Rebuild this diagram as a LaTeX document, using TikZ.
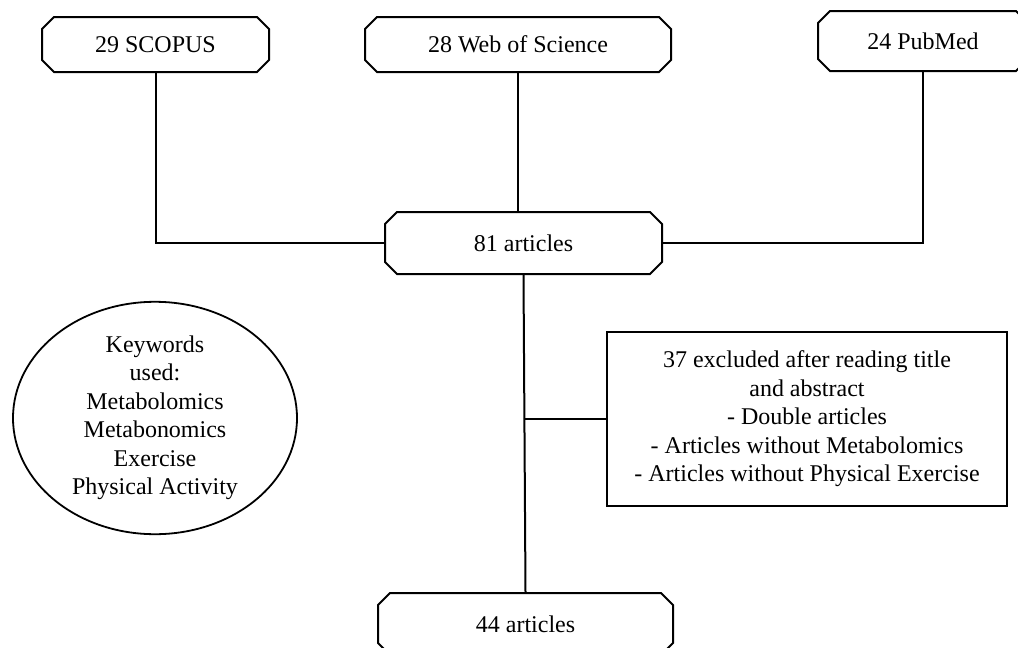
\documentclass[tikz,border=0pt]{standalone}
\usepackage{fontspec}
\setmainfont{Liberation Serif}
\usetikzlibrary{shapes.misc,shapes.geometric}
\begin{document}
\begin{tikzpicture}[x=1pt,y=-1pt,
  every node/.style={font=\fontsize{24}{28.5}\selectfont, inner sep=0pt},
  dbbox/.style={draw, line width=2pt, chamfered rectangle, chamfered rectangle sep=6pt, align=center},
  exclbox/.style={draw, line width=2pt, rectangle, minimum width=400pt, minimum height=174pt, align=center},
  kwell/.style={draw, ellipse, minimum width=284pt, minimum height=230pt, align=center, line width=1.8pt},
  link/.style={line width=2pt}]
\useasboundingbox (0,0) rectangle (1018,648);
\clip (0,0) rectangle (1018,648);
\node[dbbox, minimum width=227pt, minimum height=55pt] (scopus) at (155.5,44.5) {29 SCOPUS};
\node[dbbox, minimum width=306pt, minimum height=55pt] (wos) at (518,44.5) {28 Web of Science};
\node[dbbox, minimum width=210pt, minimum height=60pt] (pubmed) at (923,41) {24 PubMed};
\node[dbbox, minimum width=277pt, minimum height=62pt] (a81) at (523.5,243) {81 articles};
\node[dbbox, minimum width=295pt, minimum height=62pt] (a44) at (525.5,624) {44 articles};
\node[exclbox] (excl) at (807,419) {37 excluded after reading title\\and abstract\\- Double articles\\- Articles without Metabolomics\\- Articles without Physical Exercise};
\node[kwell] (kw) at (155,418) {Keywords\\used:\\Metabolomics\\Metabonomics\\Exercise\\Physical Activity};
\draw[link] (scopus.south) |- (a81.west);
\draw[link] (wos.south) -- (wos.south |- a81.north);
\draw[link] (pubmed.south) |- (a81.east);
\draw[link] (a81.south) -- (a44.north);
\coordinate (br) at (a81.south |- excl.west);
\draw[link] (br) -- (excl.west);
\end{tikzpicture}
\end{document}
